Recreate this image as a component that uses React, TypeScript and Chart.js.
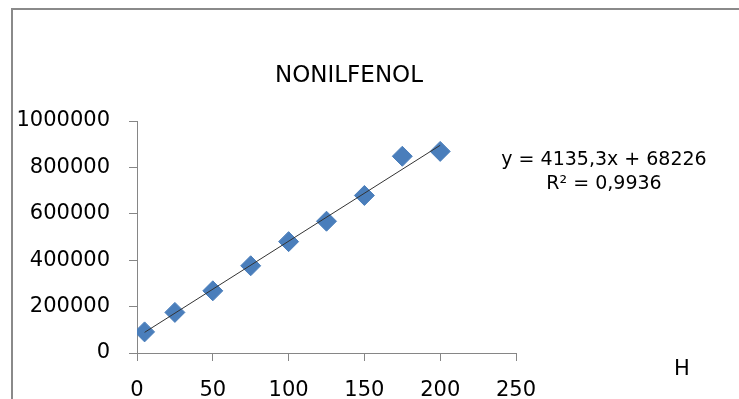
import React, { useEffect, useRef } from "react";
import { Chart, registerables } from "chart.js";

Chart.register(...registerables);

const xValues = [5, 25, 50, 75, 100, 125, 150, 175, 200];
const yValues = [91000, 175000, 268000, 376000, 480000, 568000, 679000, 848000, 869000];
const trendSlope = 4135.3;
const trendIntercept = 68226;
const trendX = [5, 200];
const titleText = "NONILFENOL";
const equationLines = ["y = 4135,3x + 68226", "R² = 0,9936"];
const sideLabel = "H";

const FONT = "'DejaVu Sans', sans-serif";

export default function App() {
  const ref = useRef<HTMLCanvasElement | null>(null);

  useEffect(() => {
    document.documentElement.style.overflow = "hidden";
    document.body.style.overflow = "hidden";
    document.body.style.margin = "0";
    if (!ref.current) return;
    const textPlugin = {
      id: "texts",
      afterDraw(chart: any) {
        const ctx = chart.ctx;
        ctx.save();
        ctx.fillStyle = "#000";
        ctx.textAlign = "center";
        ctx.textBaseline = "middle";
        ctx.font = `23px ${FONT}`;
        ctx.fillText(titleText, 349, 76);
        ctx.font = `19px ${FONT}`;
        ctx.fillText(equationLines[0], 604, 160);
        ctx.fillText(equationLines[1], 604, 184);
        ctx.font = `21px ${FONT}`;
        ctx.fillText(sideLabel, 682, 370);
        ctx.restore();
      },
    };

    const chart = new Chart(ref.current, {
      type: "scatter",
      data: {
        datasets: [
          {
            type: "line" as any,
            data: trendX.map((x) => ({ x, y: trendSlope * x + trendIntercept })),
            borderColor: "#333333",
            borderWidth: 1,
            pointRadius: 0,
            fill: false,
            order: 0,
          },
          {
            data: xValues.map((x, i) => ({ x, y: yValues[i] })),
            backgroundColor: "#4a7ebb",
            borderColor: "#4a7ebb",
            borderWidth: 1,
            pointStyle: "rectRot",
            pointRadius: 10,
            order: 1,
          },
        ],
      },
      options: {
        animation: false,
        responsive: false,
        devicePixelRatio: 1,
        layout: { padding: { left: 0, top: 121, right: 223, bottom: 0 } },
        plugins: {
          legend: { display: false },
          title: { display: false },
          tooltip: { enabled: false },
        },
        scales: {
          x: {
            type: "linear",
            min: 0,
            max: 250,
            ticks: {
              stepSize: 50,
              color: "#000",
              font: { family: FONT, size: 21 },
              padding: 17,
              callback: (v: any) => String(v),
            },
            grid: {
              display: true,
              drawOnChartArea: false,
              drawTicks: true,
              tickLength: 8,
              color: "#868686",
            },
            border: { display: true, color: "#868686", width: 1 },
            afterFit(scale: any) {
              scale.height = 46;
            },
          },
          y: {
            min: 0,
            max: 1000000,
            ticks: {
              stepSize: 200000,
              color: "#000",
              font: { family: FONT, size: 21 },
              padding: 19,
              callback: (v: any) => String(v),
            },
            grid: {
              display: true,
              drawOnChartArea: false,
              drawTicks: true,
              tickLength: 8,
              color: "#868686",
            },
            border: { display: true, color: "#868686", width: 1 },
            afterFit(scale: any) {
              scale.width = 137;
            },
          },
        },
      },
      plugins: [textPlugin],
    });
    return () => chart.destroy();
  }, []);

  return (
    <div style={{ position: "fixed", left: 0, top: 0, width: 739, height: 399, background: "#fff", overflow: "hidden" }}>
      <div
        style={{
          position: "absolute",
          left: 11,
          top: 8,
          width: 728,
          height: 391,
          boxSizing: "border-box",
          borderTop: "2px solid #8a8a8a",
          borderLeft: "2px solid #8a8a8a",
        }}
      />
      <canvas ref={ref} width={739} height={399} style={{ position: "absolute", left: 0, top: 0, display: "block" }} />
    </div>
  );
}
